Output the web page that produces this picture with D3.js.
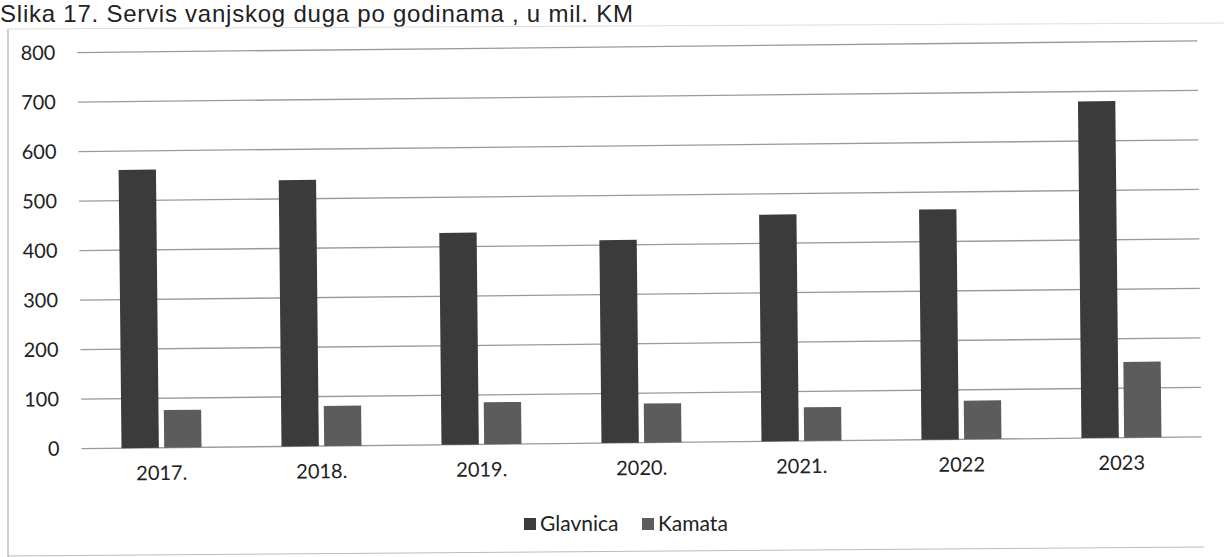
<!DOCTYPE html>
<html>
<head>
<meta charset="utf-8">
<script src="https://cdn.jsdelivr.net/npm/d3@7"></script>
<style>
  body { margin: 0; background: #fff; }
  .tick text { font-family: Lato, "Open Sans", sans-serif; fill: #222; }
</style>
</head>
<body>
<div id="chart"></div>
<script>
// data
var years = ["2017.", "2018.", "2019.", "2020.", "2021.", "2022", "2023"];
var glavnica = [562, 538, 428, 410, 458, 465, 680];
var kamata = [76, 81, 85, 79, 68, 78, 153];
var seriesNames = ["Glavnica", "Kamata"];
var yTicks = [0, 100, 200, 300, 400, 500, 600, 700, 800];

var W = 1224, H = 557;
var margin = { top: 47, right: 24, bottom: 114, left: 80 },
    width = W - margin.left - margin.right,
    height = H - margin.top - margin.bottom;

var color = d3.scaleOrdinal().domain(seriesNames).range(["#3b3b3b", "#5c5c5c"]);

var svg = d3.select("#chart").append("svg")
    .attr("width", W)
    .attr("height", H);

// title
svg.append("text")
    .attr("x", 0)
    .attr("y", 22)
    .attr("textLength", 633)
    .attr("lengthAdjust", "spacing")
    .style("font-family", "'Liberation Sans', Arial, sans-serif")
    .style("font-size", "24px")
    .style("fill", "#222")
    .text("Slika 17. Servis vanjskog duga po godinama , u mil. KM");

// chart frame (scan shows left + faint top/bottom edges)
svg.append("line").attr("x1", 8).attr("x2", 8).attr("y1", 29).attr("y2", H)
    .style("stroke", "#aaa").style("stroke-width", 1.2);
svg.append("line").attr("x1", 8).attr("x2", W).attr("y1", 29).attr("y2", 23)
    .style("stroke", "#ddd").style("stroke-width", 1);
svg.append("line").attr("x1", 8).attr("x2", W - 20).attr("y1", 556).attr("y2", 547)
    .style("stroke", "#bbb").style("stroke-width", 1);

// the page was scanned slightly tilted
var g = svg.append("g")
    .attr("transform", "rotate(-0.6," + (W / 2) + ",300) translate(" + margin.left + "," + margin.top + ")");

var x0 = d3.scaleBand().domain(years).range([0, width]);
var x1 = d3.scaleBand().domain(seriesNames).range([40, 120]).paddingInner(0.125);
var y = d3.scaleLinear().domain([0, 800]).range([height, 0]);

// gridlines
g.append("g")
    .selectAll("line")
    .data(yTicks)
    .enter().append("line")
    .attr("x1", 0)
    .attr("x2", width)
    .attr("y1", function(d) { return y(d); })
    .attr("y2", function(d) { return y(d); })
    .style("stroke", "#9a9a9a")
    .style("stroke-width", 1.3);

// y axis labels
var yAxis = d3.axisLeft(y).tickValues(yTicks).tickSize(0).tickPadding(22);
g.append("g")
    .attr("class", "y axis")
    .call(yAxis)
    .call(function(s) { s.select(".domain").remove(); })
    .selectAll("text").style("font-size", "20px");

// x axis labels
var xAxis = d3.axisBottom(x0).tickSize(0).tickPadding(18);
g.append("g")
    .attr("class", "x axis")
    .attr("transform", "translate(0," + height + ")")
    .call(xAxis)
    .call(function(s) { s.select(".domain").remove(); })
    .selectAll("text").style("font-size", "20px");

// bars
var rows = years.map(function(yr, i) {
    return { year: yr, values: [
        { name: "Glavnica", value: glavnica[i] },
        { name: "Kamata", value: kamata[i] }
    ] };
});

var group = g.selectAll(".year")
    .data(rows)
    .enter().append("g")
    .attr("class", "year")
    .attr("transform", function(d) { return "translate(" + x0(d.year) + ",0)"; });

group.selectAll("rect")
    .data(function(d) { return d.values; })
    .enter().append("rect")
    .attr("x", function(d) { return x1(d.name); })
    .attr("width", x1.bandwidth())
    .attr("y", function(d) { return y(d.value); })
    .attr("height", function(d) { return y(0) - y(d.value); })
    .style("fill", function(d) { return color(d.name); });

// legend
var legend = svg.append("g")
    .attr("transform", "translate(524,524)");

var item = legend.selectAll(".legend")
    .data(seriesNames)
    .enter().append("g")
    .attr("class", "legend")
    .attr("transform", function(d, i) { return "translate(" + (i * 118) + ",0)"; });

item.append("rect")
    .attr("x", 0)
    .attr("y", -6)
    .attr("width", 12)
    .attr("height", 12)
    .style("fill", color);

item.append("text")
    .attr("x", 16)
    .attr("y", 7)
    .style("font-family", "Lato, 'Open Sans', sans-serif")
    .style("font-size", "21px")
    .style("fill", "#222")
    .text(function(d) { return d; });
</script>
</body>
</html>
